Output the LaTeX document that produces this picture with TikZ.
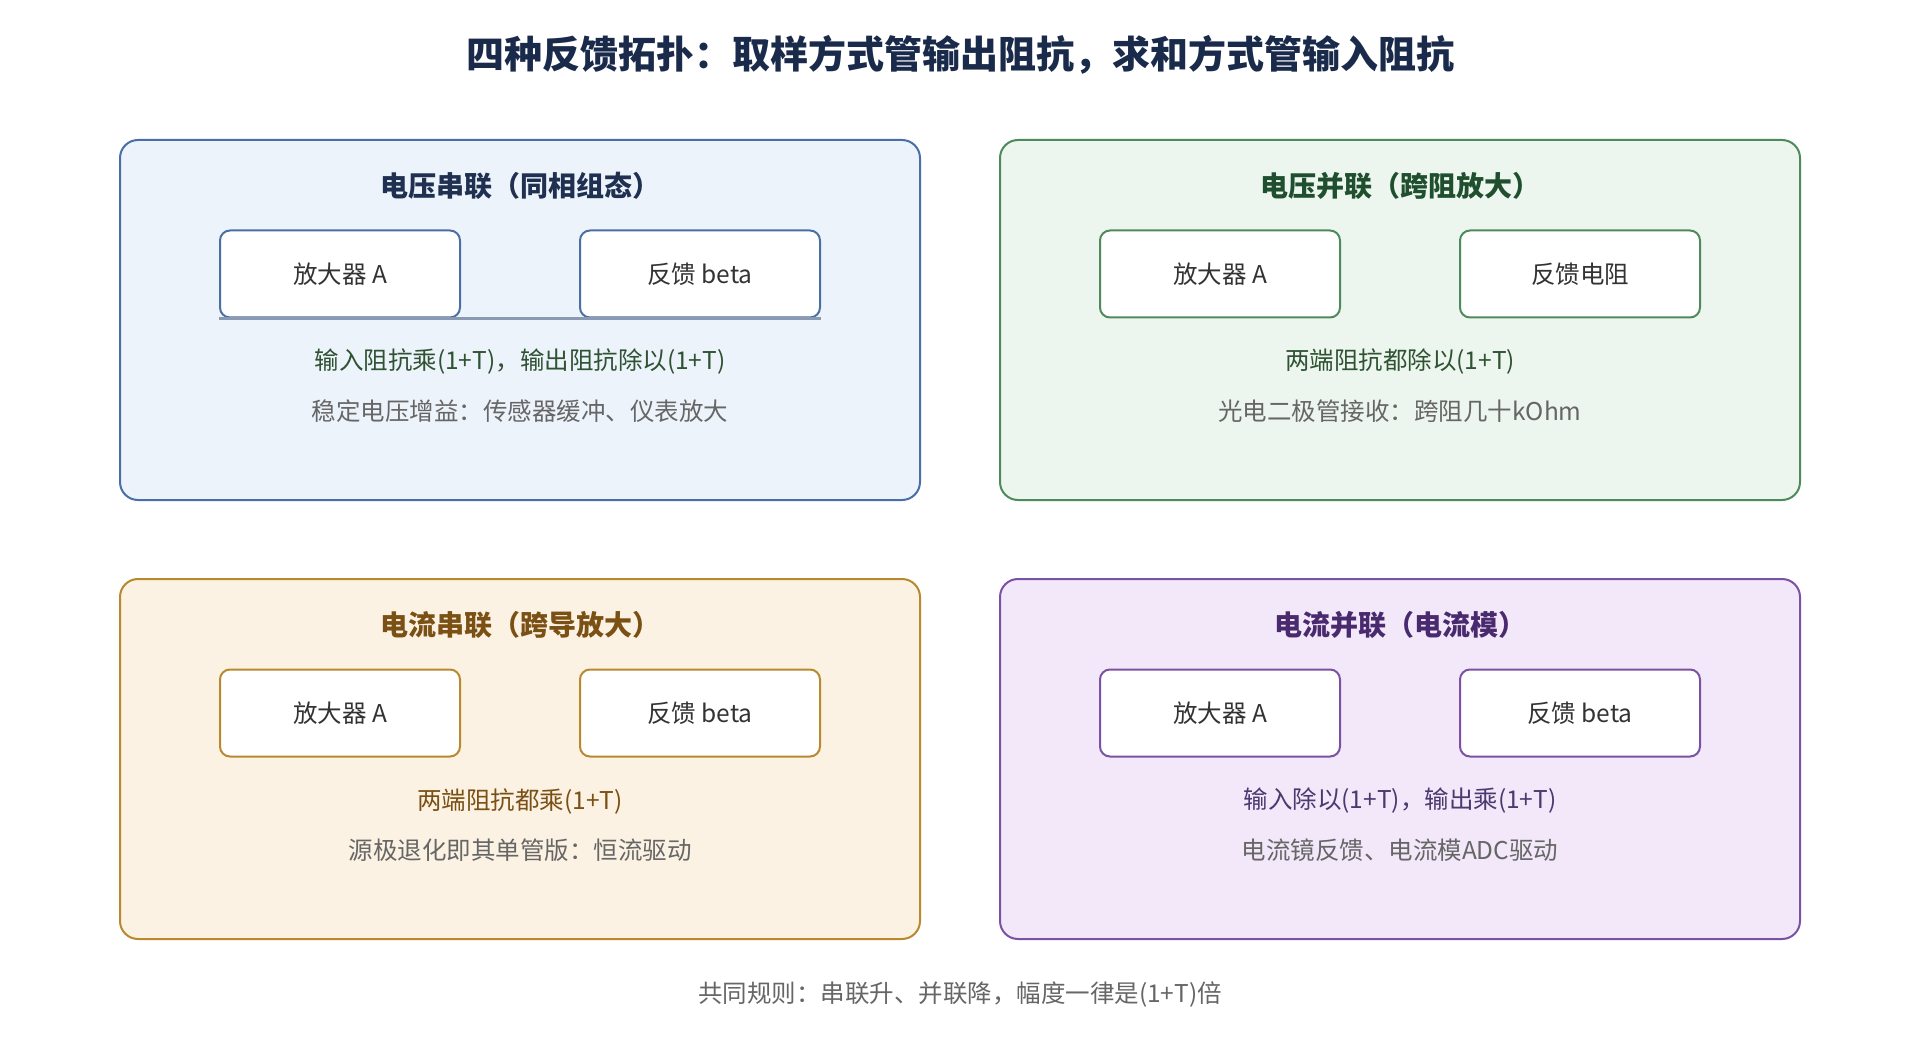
\documentclass[tikz,border=0pt]{standalone}
\usepackage{fontspec}
\setmainfont{Noto Sans CJK SC}
\usetikzlibrary{positioning}

\definecolor{bluedraw}{HTML}{4A6FA5}
\definecolor{bluefill}{HTML}{EDF3FB}
\definecolor{bluetitle}{HTML}{1F3050}
\definecolor{bluetext}{HTML}{2F5233}
\definecolor{greendraw}{HTML}{4F8A5B}
\definecolor{greenfill}{HTML}{EDF6EE}
\definecolor{greentitle}{HTML}{1F4F2F}
\definecolor{greentext}{HTML}{2F5233}
\definecolor{ambdraw}{HTML}{B8892E}
\definecolor{ambfill}{HTML}{FCF2E3}
\definecolor{ambtitle}{HTML}{7A5014}
\definecolor{ambtext}{HTML}{7A5014}
\definecolor{purpdraw}{HTML}{7B52A3}
\definecolor{purpfill}{HTML}{F2E8F9}
\definecolor{purptitle}{HTML}{4A2A6E}
\definecolor{purptext}{HTML}{4A3A70}
\definecolor{linkgray}{HTML}{8A9AB0}
\definecolor{maintitle}{HTML}{1A2A4A}
\definecolor{note}{HTML}{666666}

\begin{document}
\begin{tikzpicture}[x=1pt,y=-1pt,line join=round,
    panel/.style={draw=#1draw,fill=#1fill,line width=2pt,rounded corners=18pt,
        minimum width=800pt,minimum height=360pt},
    blk/.style={draw=#1draw,fill=white,line width=2pt,rounded corners=10pt,
        minimum width=240pt,minimum height=87pt,text=black!80,
        font=\fontsize{24.5}{28}\selectfont},
    body/.style={font=\fontsize{24.5}{28}\selectfont}]
    \useasboundingbox[fill=white] (0,0) rectangle (1920,1040);
    \node[text=maintitle,font=\fontsize{38}{46}\selectfont\bfseries] (top) at (960,55)
        {四种反馈拓扑：取样方式管输出阻抗，求和方式管输入阻抗};
    \foreach \i/\x/\y/\pc/\ttl/\fb/\la/\lb in {%
        1/520/320/blue/{电压串联（同相组态）}/{反馈 beta}/{输入阻抗乘(1+T)，输出阻抗除以(1+T)}/{稳定电压增益：传感器缓冲、仪表放大},
        2/1400/320/green/{电压并联（跨阻放大）}/{反馈电阻}/{两端阻抗都除以(1+T)}/{光电二极管接收：跨阻几十kOhm},
        3/520/759/amb/{电流串联（跨导放大）}/{反馈 beta}/{两端阻抗都乘(1+T)}/{源极退化即其单管版：恒流驱动},
        4/1400/759/purp/{电流并联（电流模）}/{反馈 beta}/{输入除以(1+T)，输出乘(1+T)}/{电流镜反馈、电流模ADC驱动}}{%
        \node[panel=\pc] (pan\i) at (\x,\y) {};
        \node[text=\pc title,font=\fontsize{28}{32}\selectfont\bfseries] (ttl\i) at (\x,\y-134) {\ttl};
        \node[blk=\pc] (amp\i) at (\x-180,\y-46) {放大器 A};
        \node[blk=\pc] (fb\i) at (\x+180,\y-46) {\fb};
        \node[body,text=\pc text] (la\i) at (\x,\y+42) {\la};
        \node[body,text=note] (lb\i) at (\x,\y+91) {\lb};
    }%
    \draw[line width=3pt,linkgray] (amp1.south west) -- (fb1.south east);
    \node[body,text=note] (rule) at (960,995) {共同规则：串联升、并联降，幅度一律是(1+T)倍};
\end{tikzpicture}
\end{document}
